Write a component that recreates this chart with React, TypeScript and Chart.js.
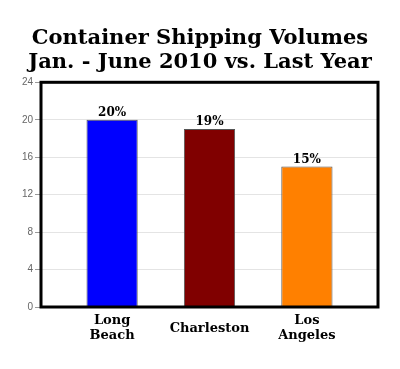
import React, { useEffect, useRef } from "react";
import { Chart, registerables } from "chart.js";

Chart.register(...registerables);

const titleLines = ["Container Shipping Volumes", "Jan. - June 2010 vs. Last Year"];
const categories: string[][] = [["Long", "Beach"], ["Charleston"], ["Los", "Angeles"]];
const values = [20, 19, 15];
const valueLabels = ["20%", "19%", "15%"];
const barColors = ["#0000ff", "#800000", "#ff8000"];
const yTicks = [0, 4, 8, 12, 16, 20, 24];

const serif = "'DejaVu Serif', 'Liberation Serif', serif";

const boxPlugin = {
  id: "boxBorder",
  afterDatasetsDraw(chart: any) {
    const { ctx } = chart;
    ctx.save();
    const meta = chart.getDatasetMeta(0);
    ctx.font = `bold 12px ${serif}`;
    ctx.fillStyle = "#000";
    ctx.textAlign = "center";
    ctx.textBaseline = "bottom";
    meta.data.forEach((bar: any, i: number) => {
      ctx.fillText(valueLabels[i], bar.x, bar.y - 1);
    });
    ctx.restore();
  },
  afterDraw(chart: any) {
    const { ctx, chartArea } = chart;
    ctx.save();
    ctx.strokeStyle = "#000";
    ctx.lineWidth = 3;
    ctx.strokeRect(chartArea.left, chartArea.top, chartArea.right - chartArea.left, chartArea.bottom - chartArea.top);
    ctx.restore();
  },
};

export default function App() {
  const ref = useRef<HTMLCanvasElement | null>(null);
  useEffect(() => {
    document.body.style.margin = "0";
    const chart = new Chart(ref.current!, {
      type: "bar",
      data: {
        datasets: [
          {
            data: values.map((v, i) => ({ x: i, y: v })),
            backgroundColor: barColors,
            borderColor: "#555",
            borderWidth: 1,
            barPercentage: 0.526,
            categoryPercentage: 1,
          },
        ],
      },
      plugins: [boxPlugin],
      options: {
        animation: false,
        responsive: false,
        layout: { padding: 0 },
        plugins: {
          legend: { display: false },
          tooltip: { enabled: false },
          title: {
            display: true,
            text: titleLines,
            color: "#000",
            font: { family: serif, size: 21, weight: "bold", lineHeight: 1.15 },
            padding: { top: 26, bottom: 8 },
          },
        },
        scales: {
          x: {
            type: "linear",
            offset: false,
            min: -0.73,
            max: 2.73,
            grid: { display: false, drawTicks: false },
            border: { display: false },
            ticks: {
              stepSize: 1,
              includeBounds: false,
              autoSkip: false,
              maxRotation: 0,
              crossAlign: "center",
              color: "#000",
              padding: 14,
              font: { family: serif, size: 13, weight: "bold", lineHeight: 1.15 },
              callback: (v: any) => categories[Number(v)] ?? "",
            },
            afterFit: (s: any) => {
              s.height = 62;
            },
          },
          y: {
            min: 0,
            max: 24,
            afterBuildTicks: (s: any) => {
              s.ticks = yTicks.map((v) => ({ value: v }));
            },
            grid: { color: "#e4e4e4", tickColor: "#999", tickLength: 6 },
            border: { display: false },
            ticks: {
              color: "#666",
              padding: 2,
              font: { family: "'Liberation Sans', Arial, sans-serif", size: 10 },
            },
            afterFit: (s: any) => {
              s.width = 41;
            },
          },
          yRight: {
            position: "right",
            min: 0,
            max: 24,
            grid: { display: false, drawTicks: false },
            border: { display: false },
            ticks: { display: false },
            afterFit: (s: any) => {
              s.width = 22;
            },
          },
        },
      },
    } as any);
    return () => chart.destroy();
  }, []);
  return (
    <div style={{ width: 400, height: 369, background: "#fff" }}>
      <canvas ref={ref} width={400} height={369} />
    </div>
  );
}
